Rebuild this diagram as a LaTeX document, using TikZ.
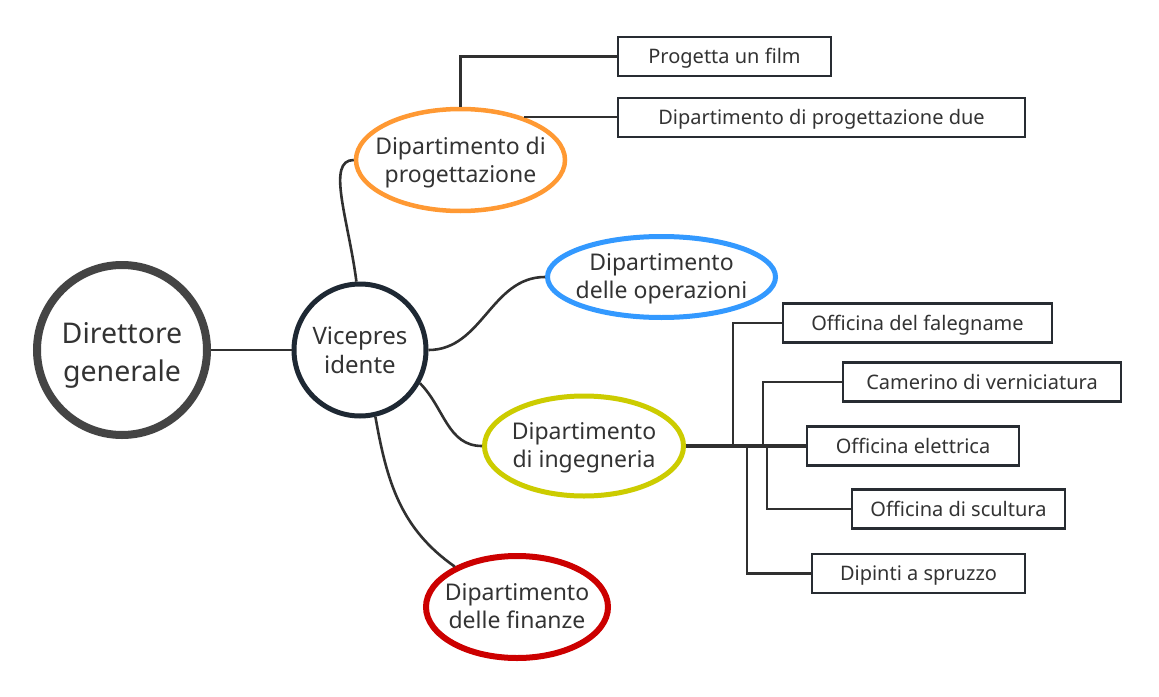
\documentclass[tikz,border=0pt]{standalone}
\usepackage{fontspec}
\setmainfont{Noto Sans}
\usetikzlibrary{shapes.geometric}
\definecolor{testo}{RGB}{51,51,51}
\definecolor{linea}{RGB}{48,48,48}
\definecolor{bordo}{RGB}{40,44,50}
\definecolor{grigiodir}{RGB}{68,68,68}
\definecolor{blunotte}{RGB}{30,40,51}
\definecolor{arancio}{RGB}{255,153,51}
\definecolor{azzurro}{RGB}{51,153,255}
\definecolor{oliva}{RGB}{204,204,0}
\definecolor{rosso}{RGB}{204,0,0}

\begin{document}
\begin{tikzpicture}[x=1pt, y=-1pt,
    cerchio/.style={circle, fill=white, inner sep=0pt, align=center, text=testo},
    reparto/.style={ellipse, fill=white, inner sep=0pt, line width=5pt},
    scritta/.style={align=center, text=testo, font=\fontsize{23}{28}\selectfont},
    casella/.style={rectangle, draw=bordo, line width=2.4pt, fill=white, minimum height=39pt, inner sep=0pt, text height=14.5pt, text depth=0pt, text=testo, font=\fontsize{20}{24}\selectfont},
    ramo/.style={draw=linea, line width=2.6pt},
    tronco/.style={draw=linea, line width=3.4pt}
]
    \fill[white] (0,0) rectangle (1159,696);

    % centro
    \node[cerchio, draw=grigiodir, line width=8pt, minimum size=170pt, label={[align=center, text=testo, yshift=-5.5pt, font=\fontsize{28.5}{38}\selectfont]center:{Direttore\\generale}}] (dir) at (122,350) {};
    \node[cerchio, draw=blunotte, line width=5pt, minimum size=132pt, font=\fontsize{24}{29}\selectfont] (vice) at (360,350) {Vicepres\\idente};

    % dipartimenti
    \node[reparto, draw=arancio, line width=4.5pt, minimum width=209pt, minimum height=102pt, label={[scritta, yshift=-3pt]center:{Dipartimento di\\progettazione}}] (prog) at (460.5,160) {};
    \node[reparto, draw=azzurro, minimum width=228pt, minimum height=81pt, label={[scritta, yshift=-1.5pt]center:{Dipartimento\\delle operazioni}}] (oper) at (661.5,277) {};
    \node[reparto, draw=oliva, minimum width=199pt, minimum height=100pt, label={[scritta, yshift=-1.5pt]center:{Dipartimento\\di ingegneria}}] (ing) at (584,446) {};
    \node[reparto, draw=rosso, line width=6pt, minimum width=182pt, minimum height=102pt, label={[scritta, yshift=1pt]center:{Dipartimento\\delle finanze}}] (fin) at (517,607) {};

    % caselle
    \node[casella, minimum width=213pt] (film) at (724.5,56.5) {Progetta un film};
    \node[casella, minimum width=407pt] (due) at (821.5,117.5) {Dipartimento di progettazione due};
    \node[casella, minimum width=269pt] (fale) at (917.5,323) {Officina del falegname};
    \node[casella, minimum width=278pt] (came) at (982,382) {Camerino di verniciatura};
    \node[casella, minimum width=212pt] (elet) at (913,446) {Officina elettrica};
    \node[casella, minimum width=213pt] (scul) at (958.5,509) {Officina di scultura};
    \node[casella, minimum width=213pt] (spru) at (918.5,573.5) {Dipinti a spruzzo};

    % collegamenti
    \draw[ramo] (dir.east) -- (vice.west);
    \draw[ramo] (vice.93) .. controls +(-8,-62) and +(-28,0) .. (prog.west);
    \draw[ramo] (vice.east) to[out=0, in=180] (oper.west);
    \draw[ramo] (vice.-29) to[out=-45, in=180] (ing.west);
    \draw[ramo] (vice.-77) to[out=-80, in=145] (fin.147);

    \draw[ramo] (prog.north) |- (film.west);
    \draw[ramo] (prog.34) -- (prog.34 -| due.west);

    \coordinate (n1) at (733,0 |- ing.east);
    \coordinate (n2) at (747,0 |- ing.east);
    \coordinate (n3) at (763,0 |- ing.east);
    \coordinate (n4) at (767,0 |- ing.east);
    \draw[tronco] (ing.east) -- (elet.west);
    \draw[ramo] (n1) |- (fale.west);
    \draw[ramo] (n3) |- (came.west);
    \draw[ramo] (n4) |- (scul.west);
    \draw[ramo] (n2) |- (spru.west);
\end{tikzpicture}
\end{document}
